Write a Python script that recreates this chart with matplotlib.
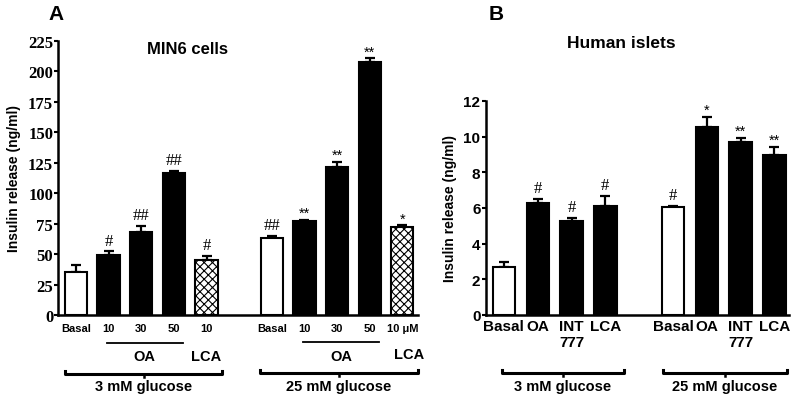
import matplotlib
matplotlib.use("Agg")
import matplotlib.pyplot as plt
import matplotlib.transforms as mtrans

plt.rcParams['font.family'] = ['Liberation Sans', 'DejaVu Sans']
plt.rcParams['font.weight'] = 'bold'
plt.rcParams['hatch.linewidth'] = 0.8

# ---- Panel A data (MIN6 cells) ----
a_pos = [0, 1, 2, 3, 4, 6, 7, 8, 9, 10]
a_ticklabels = ["Basal", "10", "30", "50", "10", "Basal", "10", "30", "50", "10 \u03bcM"]
a_values = [35.5, 49.3, 67.9, 117.0, 45.2, 63.5, 77.0, 121.3, 207.4, 72.0]
a_errors = [5.4, 3.0, 5.0, 1.6, 3.5, 1.3, 1.2, 4.6, 3.3, 1.5]
a_kind = ["white", "black", "black", "black", "hatch", "white", "black", "black", "black", "hatch"]
a_marks = ["", "#", "##", "##", "#", "##", "**", "**", "**", "*"]

# ---- Panel B data (Human islets) ----
b_pos = [0, 1, 2, 3, 5, 6, 7, 8]
b_ticklabels = ["Basal", "OA", "INT\n777", "LCA", "Basal", "OA", "INT\n777", "LCA"]
b_values = [2.68, 6.28, 5.25, 6.12, 6.04, 10.53, 9.72, 8.99]
b_errors = [0.28, 0.25, 0.19, 0.55, 0.07, 0.58, 0.21, 0.45]
b_kind = ["white", "black", "black", "black", "white", "black", "black", "black"]
b_marks = ["", "#", "#", "#", "#", "*", "**", "**"]

group_labels = ["3 mM glucose", "25 mM glucose"]

fig = plt.figure(figsize=(8.0, 4.02), dpi=100)

def px2fx(x):
    return x / 800.0

def px2fy(y):
    return 1 - y / 402.0

axA = fig.add_axes([px2fx(58), px2fy(316), (418 - 58) / 800.0, (316 - 42) / 402.0])
axB = fig.add_axes([px2fx(486), px2fy(316), (789 - 486) / 800.0, (316 - 102) / 402.0])


def draw_bars(ax, pos, vals, errs, kinds, marks, width):
    for p, v, e, k, m in zip(pos, vals, errs, kinds, marks):
        if k == "white":
            ax.bar(p, v, width=width, color="white", edgecolor="black", linewidth=1.5, zorder=2)
        elif k == "black":
            ax.bar(p, v, width=width, color="black", edgecolor="black", linewidth=1.5, zorder=2)
        else:
            ax.bar(p, v, width=width, color="white", edgecolor="black", hatch="xxxx", linewidth=1.5, zorder=2)
        ax.errorbar(p, v, yerr=[[0], [e]], fmt="none", ecolor="black", elinewidth=1.6,
                    capsize=3.6, capthick=1.6, zorder=1)
        if m:
            if "#" in m:
                ax.annotate(m, (p, v + e), xytext=(0, 2), textcoords="offset points",
                            ha="center", va="bottom", fontsize=12,
                            family=["Liberation Serif", "DejaVu Serif"], fontweight="normal")
            else:
                ax.annotate(m, (p, v + e), xytext=(0, 0), textcoords="offset points",
                            ha="center", va="bottom", fontsize=10.5, fontweight="normal")


for ax in (axA, axB):
    for s in ("top", "right"):
        ax.spines[s].set_visible(False)
    for s in ("left", "bottom"):
        ax.spines[s].set_linewidth(1.8)
    ax.tick_params(axis="x", length=0)
    ax.tick_params(axis="y", length=3, width=1.5, direction="out")

# Panel A
draw_bars(axA, a_pos, a_values, a_errors, a_kind, a_marks, 0.68)
axA.set_xlim(-0.55, 10.48)
axA.set_ylim(0, 225)
axA.set_yticks(range(0, 226, 25))
axA.set_yticklabels([str(v) for v in range(0, 226, 25)],
                    family=["Liberation Serif", "DejaVu Serif"], fontweight="bold", fontsize=12)
axA.tick_params(axis="y", pad=0.5)
axA.set_xticks(a_pos)
axA.set_xticklabels(a_ticklabels, fontsize=8, fontweight="bold")
axA.tick_params(axis="x", pad=6)
axA.set_ylabel("Insulin release (ng/ml)", fontsize=10, fontweight="bold", labelpad=5)
axA.set_title("MIN6 cells", fontsize=12, fontweight="bold", pad=0, y=0.955, x=0.36)

# Panel B
draw_bars(axB, b_pos, b_values, b_errors, b_kind, b_marks, 0.66)
axB.set_xlim(-0.53, 8.43)
axB.set_ylim(0, 12)
axB.set_yticks(range(0, 13, 2))
axB.set_yticklabels([str(v) for v in range(0, 13, 2)], fontsize=11, fontweight="bold")
axB.tick_params(axis="y", pad=1)
axB.set_xticks(b_pos)
axB.set_xticklabels(b_ticklabels, fontsize=11, fontweight="bold", linespacing=1.15)
axB.tick_params(axis="x", pad=3)
axB.set_ylabel("Insulin release (ng/ml)", fontsize=10, fontweight="bold", labelpad=5)

# Panel letters & B title
fig.text(px2fx(48), px2fy(15), "A", fontsize=15, fontweight="bold", va="center", ha="left")
fig.text(px2fx(489), px2fy(15), "B", fontsize=15, fontweight="bold", va="center", ha="left")
fig.text(px2fx(621), px2fy(43), "Human islets", fontsize=12.5, fontweight="bold", va="center", ha="center")


def bracket(ax, x0, x1, ypx, label, fs=10.5):
    tr = mtrans.blended_transform_factory(ax.transData, fig.transFigure)
    y = px2fy(ypx)
    up = 3 / 402.0
    ax.plot([x0, x0, x1, x1], [y + up, y, y, y + up], transform=tr, color="black",
            lw=2.2, clip_on=False, solid_joinstyle="round")
    xm = (x0 + x1) / 2
    ax.plot([xm, xm], [y, y - up], transform=tr, color="black", lw=1.8, clip_on=False)
    ax.text(xm, px2fy(387), label, transform=tr, ha="center", va="center",
            fontsize=fs, fontweight="bold")


def line_label(ax, x0, x1, ypx, label, ylabpx):
    tr = mtrans.blended_transform_factory(ax.transData, fig.transFigure)
    if x1 > x0:
        ax.plot([x0, x1], [px2fy(ypx)] * 2, transform=tr, color="black", lw=1.3, clip_on=False)
    ax.text((x0 + x1) / 2, px2fy(ylabpx), label, transform=tr, ha="center", va="center",
            fontsize=10.5, fontweight="bold")


# OA / LCA labels in panel A
line_label(axA, 0.94, 3.27, 344, "OA", 357)
line_label(axA, 4, 4, 0, "LCA", 357)
line_label(axA, 6.97, 9.3, 343, "OA", 357)
line_label(axA, 10.2, 10.2, 0, "LCA", 355)

# glucose brackets
bracket(axA, -0.33, 4.48, 375, group_labels[0])
bracket(axA, 5.64, 10.48, 374, group_labels[1])
bracket(axB, -0.06, 3.55, 374, group_labels[0])
bracket(axB, 4.7, 8.37, 374, group_labels[1])

fig.savefig("out.png", dpi=100)
